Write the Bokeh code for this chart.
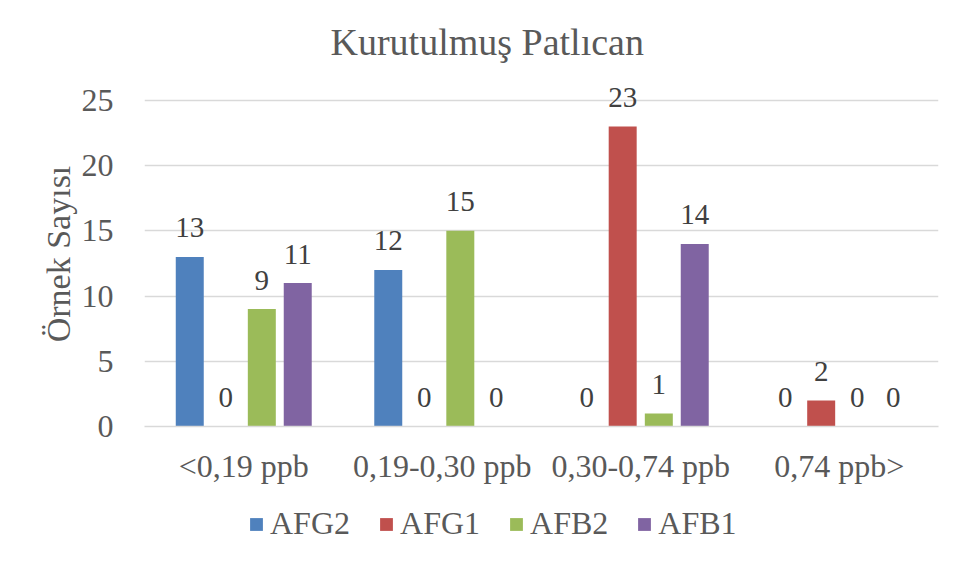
from bokeh.plotting import figure
from bokeh.models import ColumnDataSource, FactorRange, Range1d, Legend, LegendItem
from bokeh.layouts import column
from bokeh.transform import dodge
from bokeh.core.properties import value
from bokeh.embed import file_html
from bokeh.resources import INLINE

categories = ["<0,19 ppb", "0,19-0,30 ppb", "0,30-0,74 ppb", "0,74 ppb>"]
series_names = ["AFG2", "AFG1", "AFB2", "AFB1"]
afg2 = [13, 12, 0, 0]
afg1 = [0, 0, 23, 2]
afb2 = [9, 15, 1, 0]
afb1 = [11, 0, 14, 0]
y_ticks = [0, 5, 10, 15, 20, 25]
title_text = "Kurutulmuş Patlıcan"
y_label = "Örnek Sayısı"

colors = ["#4F81BD", "#C0504D", "#9BBB59", "#8064A2"]
offsets = [-0.272, -0.091, 0.091, 0.272]
FONT = "Liberation Serif"
TXT = "#595959"

p = figure(width=948, height=490, x_range=FactorRange(*categories),
           y_range=Range1d(0, 26.45), output_backend="svg", toolbar_location=None,
           min_border_left=144, min_border_right=10, min_border_top=79,
           min_border_bottom=64)

p.title.text = title_text
p.title.align = "left"
p.title.text_font = FONT
p.title.text_font_size = "38px"
p.title.text_font_style = "normal"
p.title.text_color = TXT
p.title.offset = 186
try:
    p.title.standoff = 37
except Exception:
    pass

p.outline_line_color = None
p.xgrid.grid_line_color = None
p.ygrid.grid_line_color = "#D9D9D9"
p.ygrid.grid_line_width = 1.3
p.yaxis.ticker = y_ticks
p.yaxis.axis_line_color = None
p.yaxis.major_tick_line_color = None
p.yaxis.minor_tick_line_color = None
p.yaxis.major_label_text_font = FONT
p.yaxis.major_label_text_font_size = "32px"
p.yaxis.major_label_text_color = TXT
p.yaxis.major_label_standoff = 25
p.yaxis.axis_label = y_label
p.yaxis.axis_label_text_font = FONT
p.yaxis.axis_label_text_font_size = "34px"
p.yaxis.axis_label_text_font_style = "normal"
p.yaxis.axis_label_text_color = TXT
p.yaxis.axis_label_standoff = 2

p.xaxis.axis_line_color = "#D9D9D9"
p.xaxis.axis_line_width = 1.5
p.xaxis.major_tick_line_color = None
p.xaxis.minor_tick_line_color = None
p.xaxis.major_label_text_font = FONT
p.xaxis.major_label_text_font_size = "32px"
p.xaxis.major_label_text_color = TXT
p.xaxis.major_label_standoff = 15

src = ColumnDataSource(dict(cat=categories, AFG2=afg2, AFG1=afg1, AFB2=afb2, AFB1=afb1,
                            AFG2_t=[str(v) for v in afg2], AFG1_t=[str(v) for v in afg1],
                            AFB2_t=[str(v) for v in afb2], AFB1_t=[str(v) for v in afb1]))

for name, col, off in zip(series_names, colors, offsets):
    p.vbar(x=dodge("cat", off, range=p.x_range), top=name, width=0.141,
           source=src, fill_color=col, line_color=None)
    p.text(x=dodge("cat", off, range=p.x_range), y=name, text=name + "_t", source=src,
           text_align="center", text_baseline="alphabetic", y_offset=-29,
           text_font=value(FONT), text_font_size="29px", text_color="#404040")

# legend strip (zero-width series outside its visible range; only the legend shows)
lg = figure(width=948, height=61, x_range=FactorRange(*categories), y_range=Range1d(-2, -1),
            output_backend="svg", toolbar_location=None,
            min_border_left=0, min_border_right=0, min_border_top=0, min_border_bottom=0)
lg.axis.visible = False
lg.grid.grid_line_color = None
lg.outline_line_color = None
items = []
for name, col, off in zip(series_names, colors, offsets):
    r = lg.vbar(x=dodge("cat", off, range=lg.x_range), top=name, width=0,
                source=src, fill_color=col, line_color=None)
    items.append(LegendItem(label=name, renderers=[r]))
legend = Legend(items=items, orientation="horizontal", location=(104, 9),
                glyph_width=16, glyph_height=16, label_standoff=6, spacing=28,
                label_text_font=FONT, label_text_font_size="32px", label_text_color=TXT,
                border_line_color=None, background_fill_alpha=0, padding=0, margin=0)
lg.add_layout(legend, "center")

layout = column(p, lg, spacing=0)
open("out.html", "w").write(file_html(layout, INLINE))
